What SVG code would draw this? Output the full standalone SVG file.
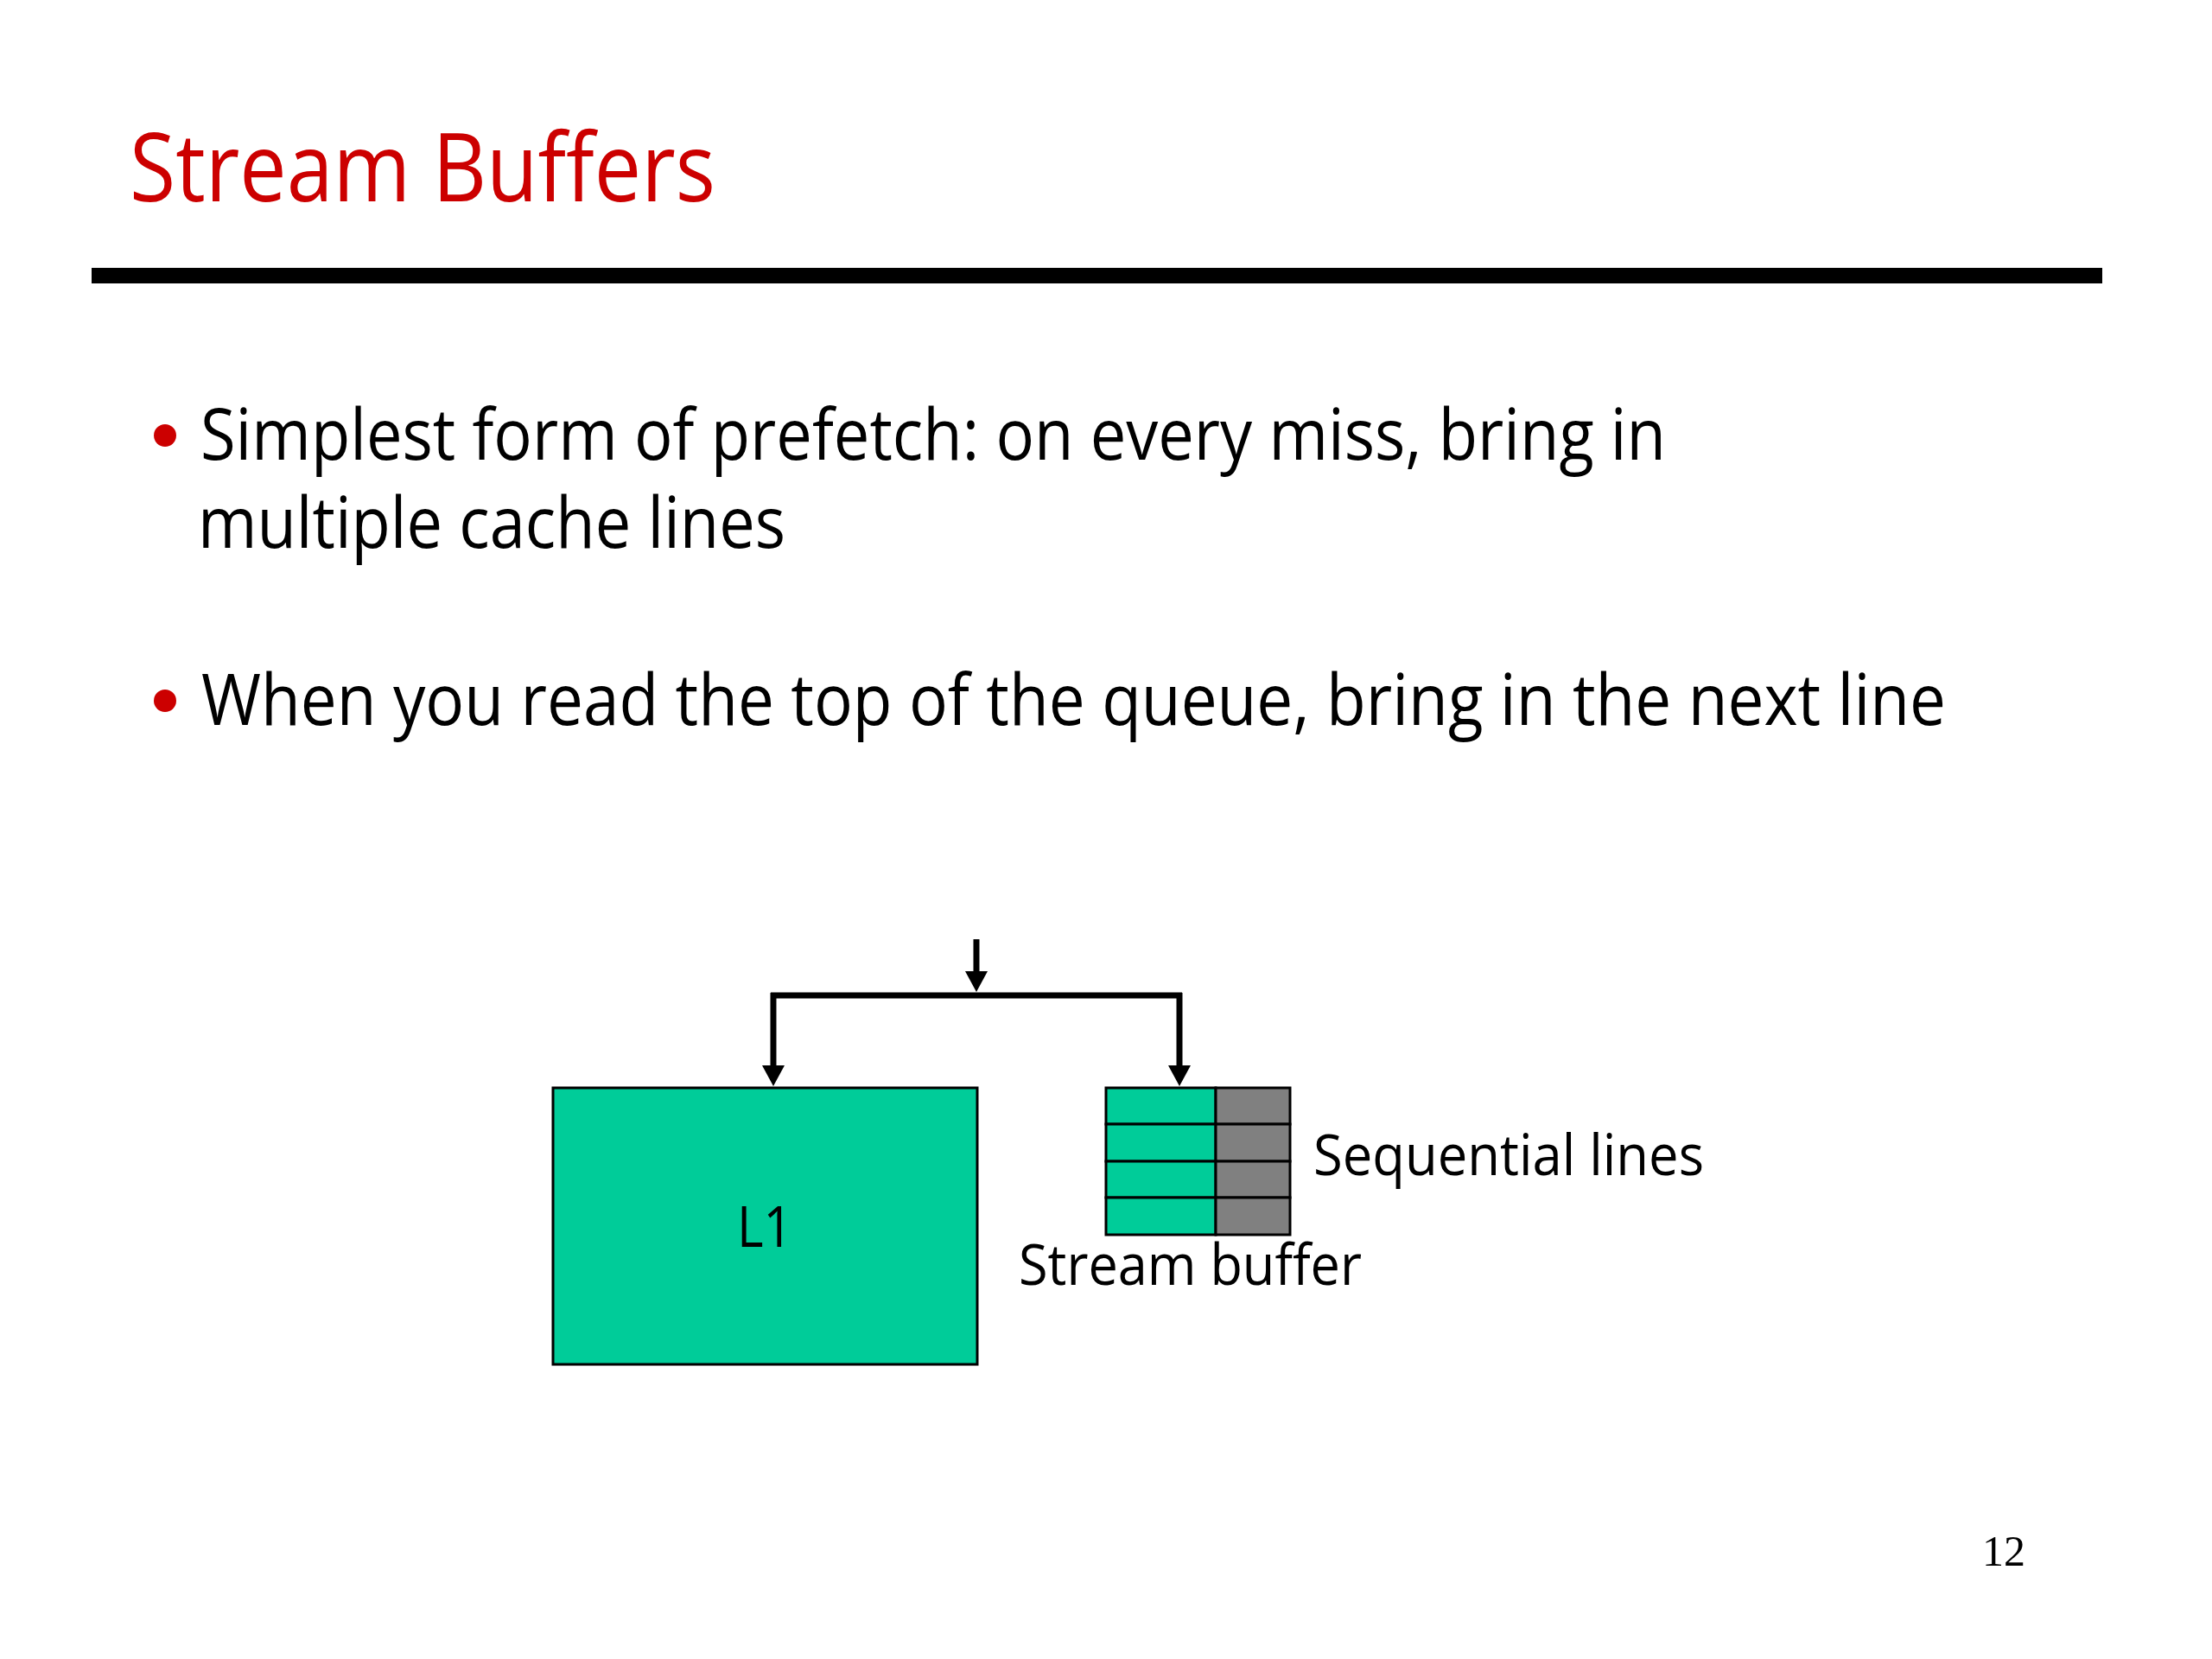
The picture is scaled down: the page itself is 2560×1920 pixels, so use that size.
<svg xmlns="http://www.w3.org/2000/svg" width="2560" height="1920" viewBox="0 0 2560 1920">
<style>
.t{font-family:"Open Sans","Noto Sans","Liberation Sans",sans-serif;fill:#000}
.title{font-family:"Open Sans","Noto Sans","Liberation Sans",sans-serif;fill:#CC0000;font-size:110px}
.body{font-size:82px}
.lab{font-size:66px}
.green{fill:#00CC99;stroke:#000;stroke-width:3}
.grey{fill:#808080;stroke:#000;stroke-width:3}
.wire{stroke:#000;stroke-width:7;fill:none}
.bullet{fill:#CC0000}
</style>
<defs>
<marker id="ah" markerUnits="userSpaceOnUse" markerWidth="24" markerHeight="26" viewBox="0 0 24 26" refX="12" refY="13" orient="auto">
<path d="M0,0 L24,13 L0,26 z" fill="#000"/>
</marker>
</defs>
<rect width="2560" height="1920" fill="#fff"/>
<g id="title">
<text class="title" x="150" y="233" textLength="678" lengthAdjust="spacingAndGlyphs">Stream Buffers</text>
<rect x="106" y="310" width="2327" height="18" fill="#000"/>
</g>
<g id="bullets">
<circle class="bullet" cx="191" cy="504" r="13"/>
<text class="t body" x="232" y="532" textLength="1696" lengthAdjust="spacingAndGlyphs">Simplest form of prefetch: on every miss, bring in</text>
<text class="t body" x="229" y="634" textLength="680" lengthAdjust="spacingAndGlyphs">multiple cache lines</text>
<circle class="bullet" cx="191" cy="811" r="13"/>
<text class="t body" x="233" y="839" textLength="2019" lengthAdjust="spacingAndGlyphs">When you read the top of the queue, bring in the next line</text>
</g>
<g id="connectors">
<line class="wire" x1="1130" y1="1087" x2="1130" y2="1136" marker-end="url(#ah)"/>
<line class="wire" x1="892" y1="1152" x2="1368" y2="1152"/>
<line class="wire" x1="895" y1="1149" x2="895" y2="1245" marker-end="url(#ah)"/>
<line class="wire" x1="1365" y1="1149" x2="1365" y2="1245" marker-end="url(#ah)"/>
</g>
<g id="L1">
<rect class="green" x="640" y="1259" width="491" height="320"/>
<text class="t lab" x="885" y="1443" text-anchor="middle" textLength="64" lengthAdjust="spacingAndGlyphs">L1</text>
</g>
<g id="stream-buffer">
<rect class="green" x="1280" y="1259" width="127" height="42"/>
<rect class="grey" x="1407" y="1259" width="86" height="42"/>
<rect class="green" x="1280" y="1301" width="127" height="43"/>
<rect class="grey" x="1407" y="1301" width="86" height="43"/>
<rect class="green" x="1280" y="1344" width="127" height="42"/>
<rect class="grey" x="1407" y="1344" width="86" height="42"/>
<rect class="green" x="1280" y="1386" width="127" height="43"/>
<rect class="grey" x="1407" y="1386" width="86" height="43"/>
<text class="t lab" x="1179" y="1487" textLength="397" lengthAdjust="spacingAndGlyphs">Stream buffer</text>
<text class="t lab" x="1520" y="1360" textLength="452" lengthAdjust="spacingAndGlyphs">Sequential lines</text>
</g>
<g id="page-number">
<text x="2294" y="1812" font-family="'Liberation Serif',serif" font-size="50" fill="#000">12</text>
</g>
</svg>
